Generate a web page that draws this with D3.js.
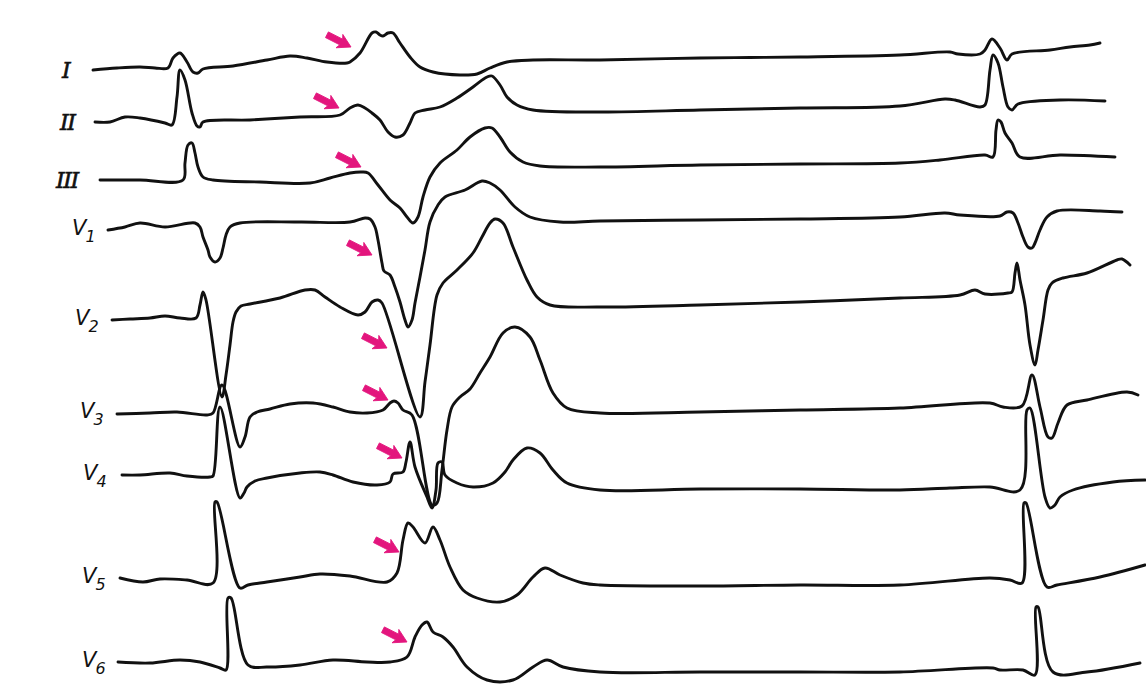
<!DOCTYPE html>
<html>
<head>
<meta charset="utf-8">
<script src="https://cdn.jsdelivr.net/npm/d3@7"></script>
<style>
  html, body { margin: 0; padding: 0; background: #fff; }
  svg { display: block; }
</style>
</head>
<body>
<svg id="chart" width="1146" height="690"></svg>
<script>
// ---------------- DATA (time in ms, amplitude in mV) ----------------
const leadLabels = ["I", "II", "III", "V", "V", "V", "V", "V", "V"];
const leadSubscripts = ["", "", "", "1", "2", "3", "4", "5", "6"];

const leadI = [[6,0],[54,0.02],[100,0.03],[130,0.02],[156,0.02],[166,0.12],[180,0.17],[194,0.08],[206,-0.02],[216,-0.03],[226,0.01],[286,0.04],[354,0.10],[400,0.14],[434,0.12],[474,0.08],[514,0.07],[520,0.08],[540,0.17],[564,0.37],[572,0.38],[580,0.35],[586,0.34],[596,0.37],[606,0.37],[620,0.27],[640,0.13],[660,0.03],[686,-0.02],[740,-0.05],[774,-0.04],[800,0.02],[834,0.08],[886,0.10],[1020,0.10],[1220,0.12],[1420,0.13],[1620,0.15],[1720,0.18],[1736,0.16],[1780,0.16],[1790,0.20],[1804,0.31],[1820,0.22],[1834,0.10],[1844,0.16],[1920,0.20],[1960,0.23],[2000,0.25],[2020,0.27]];

const leadII = [[10,0],[40,0],[70,0.05],[100,0.04],[150,-0.01],[164,-0.03],[174,0.25],[180,0.52],[190,0.42],[204,0.09],[214,-0.04],[220,-0.05],[226,0],[320,0.02],[420,0.05],[500,0.07],[520,0.14],[536,0.17],[550,0.14],[564,0.09],[580,0.02],[596,-0.10],[610,-0.15],[626,-0.13],[640,-0.01],[650,0.09],[670,0.12],[700,0.15],[734,0.24],[766,0.35],[794,0.45],[804,0.46],[820,0.37],[834,0.25],[854,0.17],[886,0.12],[1020,0.10],[1220,0.12],[1420,0.14],[1620,0.16],[1710,0.23],[1730,0.22],[1780,0.15],[1790,0.17],[1800,0.52],[1806,0.67],[1816,0.59],[1826,0.35],[1836,0.15],[1844,0.12],[1856,0.18],[1940,0.22],[2030,0.21]];

const leadIII = [[20,0],[100,0],[186,0],[190,0.17],[196,0.35],[204,0.37],[210,0.27],[216,0.13],[226,0.03],[246,0],[340,-0.02],[440,-0.03],[480,0.02],[520,0.07],[544,0.08],[556,0.07],[576,-0.05],[600,-0.20],[620,-0.28],[634,-0.37],[646,-0.43],[656,-0.37],[666,-0.17],[680,0.03],[700,0.17],[734,0.30],[760,0.43],[790,0.52],[804,0.52],[820,0.43],[840,0.28],[866,0.18],[900,0.14],[1020,0.13],[1220,0.15],[1420,0.16],[1620,0.17],[1700,0.20],[1790,0.25],[1806,0.23],[1812,0.50],[1816,0.60],[1822,0.58],[1830,0.47],[1844,0.37],[1860,0.23],[1940,0.25],[2050,0.23]];

const leadV1 = [[36,0],[70,0.03],[100,0.07],[150,0.03],[210,0.07],[220,0.03],[226,-0.07],[236,-0.20],[240,-0.27],[250,-0.32],[260,-0.28],[266,-0.18],[272,-0.05],[280,0.03],[300,0.07],[420,0.08],[520,0.08],[550,0.12],[560,0.11],[570,0.03],[576,-0.10],[584,-0.33],[588,-0.41],[600,-0.45],[610,-0.57],[620,-0.72],[630,-0.90],[636,-0.97],[644,-0.90],[650,-0.73],[660,-0.47],[670,-0.20],[680,0.08],[696,0.25],[710,0.33],[750,0.40],[784,0.49],[800,0.47],[820,0.40],[850,0.23],[880,0.13],[940,0.08],[1020,0.09],[1220,0.10],[1420,0.11],[1620,0.13],[1710,0.17],[1740,0.15],[1820,0.14],[1834,0.18],[1846,0.17],[1856,0.07],[1866,-0.07],[1876,-0.17],[1884,-0.18],[1890,-0.13],[1900,0],[1914,0.13],[1934,0.19],[2020,0.19],[2064,0.18]];

const leadV2 = [[44,0],[80,0.01],[120,0.02],[150,0.04],[180,0.02],[212,0.02],[220,0.15],[226,0.28],[232,0.20],[264,-0.77],[272,-0.55],[280,-0.25],[286,-0.02],[292,0.08],[302,0.14],[320,0.16],[380,0.22],[430,0.30],[450,0.30],[470,0.23],[500,0.13],[536,0.05],[550,0.08],[564,0.18],[576,0.20],[584,0.17],[660,-0.97],[670,-0.62],[680,-0.25],[694,0.25],[706,0.37],[734,0.50],[766,0.67],[784,0.83],[800,0.97],[810,1.01],[826,0.97],[846,0.73],[874,0.40],[894,0.23],[920,0.15],[1020,0.13],[1220,0.15],[1420,0.18],[1620,0.22],[1740,0.25],[1770,0.30],[1790,0.26],[1836,0.27],[1844,0.28],[1850,0.47],[1854,0.57],[1860,0.40],[1870,0.15],[1880,-0.25],[1890,-0.45],[1896,-0.30],[1906,0],[1916,0.30],[1924,0.37],[1946,0.42],[1994,0.47],[2054,0.60],[2064,0.61],[2080,0.55]];

const leadV3 = [[54,-0.01],[120,0],[174,0.01],[234,-0.02],[246,0],[264,0.28],[300,-0.34],[310,-0.24],[320,-0.04],[334,0.01],[360,0.04],[400,0.09],[446,0.10],[486,0.06],[520,0.01],[554,0],[586,0.03],[600,0.10],[608,0.12],[616,0.10],[626,0.03],[644,-0.02],[684,-0.92],[694,-0.90],[704,-0.57],[714,-0.17],[724,0.06],[740,0.16],[760,0.24],[780,0.40],[800,0.56],[826,0.80],[850,0.86],[880,0.76],[900,0.53],[926,0.20],[954,0.05],[1020,0],[1220,0.01],[1420,0.03],[1620,0.05],[1800,0.10],[1826,0.06],[1864,0.07],[1884,0.38],[1900,0.06],[1916,-0.24],[1924,-0.25],[1936,-0.10],[1954,0.08],[1994,0.13],[2074,0.21],[2096,0.18]];

const leadV4 = [[64,0],[100,0],[160,0.02],[194,-0.01],[240,-0.02],[246,-0.01],[260,0.68],[300,-0.23],[308,-0.18],[314,-0.12],[330,-0.06],[354,-0.03],[420,0.02],[460,0.03],[486,0],[526,-0.07],[574,-0.10],[600,-0.07],[606,0.01],[626,0.03],[632,0.13],[640,0.33],[650,0.08],[674,-0.22],[684,-0.33],[692,-0.15],[696,0.12],[704,0.13],[710,0],[734,-0.08],[766,-0.12],[806,-0.08],[830,0.03],[846,0.15],[874,0.27],[900,0.22],[926,0.05],[954,-0.08],[1020,-0.15],[1220,-0.14],[1420,-0.14],[1620,-0.15],[1720,-0.13],[1800,-0.12],[1860,-0.15],[1874,0.65],[1880,0.67],[1910,-0.22],[1920,-0.33],[1930,-0.30],[1940,-0.22],[1966,-0.15],[2046,-0.07],[2110,-0.05]];

const leadV5 = [[60,0],[106,-0.04],[140,-0.01],[194,-0.02],[246,-0.05],[250,0.76],[254,0.76],[300,-0.10],[316,-0.07],[354,-0.04],[420,0.01],[460,0.04],[520,0.02],[594,-0.04],[614,0.05],[626,0.38],[636,0.55],[646,0.51],[670,0.35],[686,0.51],[700,0.38],[720,0.11],[746,-0.12],[774,-0.20],[820,-0.24],[854,-0.17],[886,0.01],[910,0.10],[940,0.03],[986,-0.05],[1020,-0.07],[1220,-0.08],[1420,-0.07],[1620,-0.07],[1800,0],[1840,-0.02],[1864,-0.05],[1868,0.75],[1872,0.75],[1914,-0.09],[1934,-0.07],[2020,0.01],[2110,0.13]];

const leadV6 = [[56,0],[120,-0.01],[180,0.02],[220,0],[260,-0.06],[272,-0.08],[276,0.64],[282,0.64],[316,-0.03],[354,-0.05],[420,-0.03],[486,0.02],[554,0],[600,0],[634,0.05],[650,0.25],[664,0.37],[674,0.40],[686,0.30],[706,0.25],[726,0.15],[754,-0.05],[794,-0.18],[846,-0.18],[886,-0.05],[914,0.02],[946,-0.05],[1020,-0.10],[1220,-0.10],[1420,-0.10],[1620,-0.10],[1806,-0.06],[1820,-0.08],[1866,-0.08],[1890,-0.13],[1892,0.55],[1896,0.55],[1926,-0.10],[1994,-0.10],[2100,-0.01]];

// P-wave markers (magenta arrows): time and amplitude of arrow tip per lead
const arrowTimes = [522, 498, 542, 564, 594, 596, 624, 618, 634];
const arrowAmps  = [0.23, 0.14, 0.13, -0.25, -0.28, 0.13, 0.17, 0.26, 0.20];

// ---------------- LAYOUT ----------------
const W = 1146, H = 690;
const leadBaselines = [70, 122, 180, 230, 320, 413, 475, 578, 662];
const labelX = [62, 60, 56, 72, 75, 80, 83, 82, 82];
const leadData = [leadI, leadII, leadIII, leadV1, leadV2, leadV3, leadV4, leadV5, leadV6];

const svg = d3.select("#chart");
svg.append("rect").attr("width", W).attr("height", H).attr("fill", "#ffffff");

const x = d3.scaleLinear().domain([0, 2110]).range([90, 1145]);
const amp = d3.scaleLinear().domain([-1, 1]).range([100, -100]);

const leads = leadData.map((d, i) => ({
  label: leadLabels[i], sub: leadSubscripts[i], base: leadBaselines[i], data: d,
  arrowT: arrowTimes[i], arrowA: arrowAmps[i], lx: labelX[i]
}));

const g = svg.append("g");

leads.forEach(L => {
  const line = d3.line()
    .x(d => x(d[0]))
    .y(d => L.base + amp(d[1]))
    .curve(d3.curveCatmullRom.alpha(0.5));
  g.append("path")
    .attr("d", line(L.data))
    .attr("fill", "none")
    .attr("stroke", "#111")
    .attr("stroke-width", 2.9)
    .attr("stroke-linejoin", "round")
    .attr("stroke-linecap", "round");
});

// labels
leads.forEach((L, i) => {
  if (L.sub === "") {
    g.append("text")
      .attr("x", L.lx).attr("y", L.base + 8)
      .attr("font-family", "'DejaVu Serif', serif")
      .attr("font-style", "italic")
      .attr("font-size", 22)
      .attr("fill", "#111")
      .attr("stroke", "#111").attr("stroke-width", 0.6)
      .attr("letter-spacing", -1.5)
      .text(L.label);
  } else {
    const t = g.append("text")
      .attr("x", L.lx).attr("y", L.base + 5)
      .attr("font-family", "'DejaVu Sans', sans-serif")
      .attr("font-style", "italic")
      .attr("font-size", 21)
      .attr("fill", "#111");
    t.append("tspan").text(L.label);
    t.append("tspan").attr("dy", 7).attr("dx", -1).attr("font-size", 16).text(L.sub);
  }
});

// arrows
const arrowShape = "M0,0 L-13,-7.5 L-11,-3.2 L-27,-3.2 L-27,3.2 L-11,3.2 L-13,7.5 Z";
leads.forEach(L => {
  const tx = x(L.arrowT), ty = L.base + amp(L.arrowA);
  g.append("path")
    .attr("d", arrowShape)
    .attr("transform", `translate(${tx},${ty}) rotate(27)`)
    .attr("fill", "#e3157d")
    .attr("stroke", "#e3157d")
    .attr("stroke-width", 0.8)
    .attr("stroke-linejoin", "round");
});
</script>
</body>
</html>
